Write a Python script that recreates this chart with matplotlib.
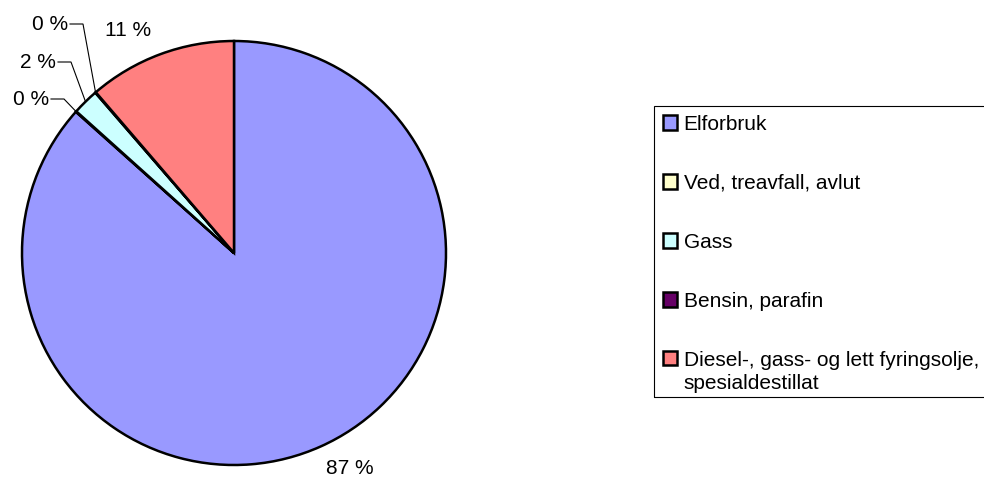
import numpy as np
import matplotlib.pyplot as plt
from matplotlib.patches import Rectangle

plt.rcParams['font.family'] = ['Liberation Sans', 'DejaVu Sans']

# data
categories = ["Elforbruk", "Ved, treavfall, avlut", "Gass", "Bensin, parafin",
              "Diesel-, gass- og lett fyringsolje,\nspesialdestillat"]
shares = [86.6, 0.05, 2.0, 0.05, 11.3]
pct_labels = ["87 %", "0 %", "2 %", "0 %", "11 %"]
colors = ["#9999FF", "#FFFFCC", "#CCFFFF", "#660066", "#FF8080"]

W, H = 984, 479
FS = 15

fig = plt.figure(figsize=(W / 100, H / 100), dpi=100)
ax = fig.add_axes([0, 0, 1, 1])

# pie in pixel-like data coords (y up)
cx, cy, r = 234, H - 253, 212
wedges, _ = ax.pie(shares, colors=colors, startangle=90, counterclock=False,
                   center=(cx, cy), radius=r,
                   wedgeprops=dict(edgecolor='black', linewidth=1.8))
ax.set_xlim(0, W)
ax.set_ylim(0, H)
ax.set_aspect('equal')
ax.axis('off')

# label placement: (x, y, ha, leader)
label_pos = [
    (350, 468, 'center', False),
    (49, 99, 'right', True),
    (56, 62, 'right', True),
    (68, 24, 'right', True),
    (128, 30, 'center', False),
]

for w, txt, (lx, ly, ha, leader) in zip(wedges, pct_labels, label_pos):
    ax.text(lx, H - ly, txt, ha=ha, va='center', fontsize=FS)
    if leader:
        mid = np.deg2rad((w.theta1 + w.theta2) / 2)
        px = cx + r * np.cos(mid)
        py = cy + r * np.sin(mid)
        ax.plot([lx + 2, lx + 15, px], [H - ly, H - ly, py],
                color='black', lw=0.8, solid_joinstyle='miter')

# legend (frame drawn separately, it runs off the right edge)
leg = ax.legend(wedges, categories, loc='upper left',
                bbox_to_anchor=(654 / W, 1 - 106 / H), bbox_transform=fig.transFigure,
                frameon=False, fontsize=FS,
                handlelength=0.7, handleheight=0.7, handletextpad=0.3,
                labelspacing=1.92, borderpad=0.42, borderaxespad=0)
leg.texts[-1].set_linespacing(1.3)
rows = leg._legend_handle_box.get_children()[0].get_children()
rows[-1].align = 'top'

fig.add_artist(Rectangle((654 / W, 1 - 397 / H), 0.5, (397 - 106) / H,
                         transform=fig.transFigure, fill=False,
                         edgecolor='black', lw=0.8))

fig.savefig('out.png', dpi=100)
